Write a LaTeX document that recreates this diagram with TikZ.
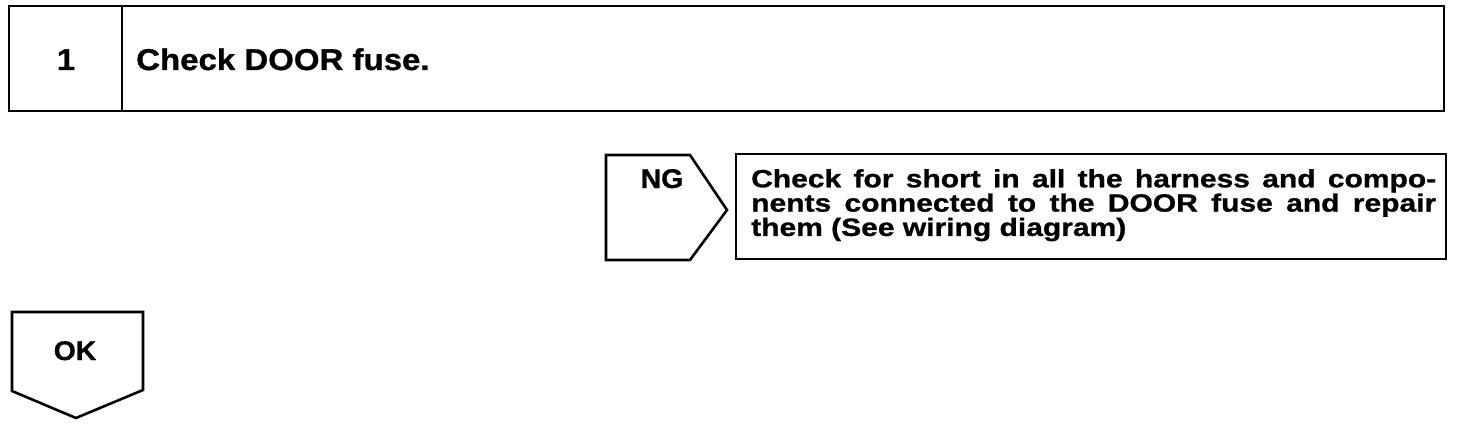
\documentclass[tikz,border=0pt]{standalone}
\usepackage{fontspec}
\newfontfamily\hlfont[FakeStretch=1.1,BoldFeatures={FakeBold=1}]{Liberation Sans}
\newfontfamily\wdfont[FakeStretch=1.2,BoldFeatures={FakeBold=1}]{Liberation Sans}
\newfontfamily\tgfont[FakeStretch=1.05,BoldFeatures={FakeBold=1}]{Liberation Sans}

\begin{document}
\begin{tikzpicture}[x=1pt,y=-1pt,line join=miter,
    box/.style={line width=2.6pt,draw=black},
    head/.style={inner sep=0pt,font=\hlfont\bfseries\fontsize{30}{30}\selectfont},
    body/.style={inner sep=0pt,text width=685pt,align=justify,
      font=\wdfont\bfseries\fontsize{25}{22.2}\selectfont},
    tag/.style={inner sep=0pt,font=\tgfont\bfseries\fontsize{27}{27}\selectfont}]
      \useasboundingbox (0,0) rectangle (1472,428);
      \draw[box] (9,6) rectangle (1444,111);
      \draw[box] (122,6) -- (122,111);
      \draw[box] (606,155) -- (690,155) -- (727,210) -- (690,260) -- (606,260) -- cycle;
      \draw[box] (736,154) rectangle (1446,259);
      \draw[box] (12,312) -- (143,312) -- (143,390) -- (76,418) -- (12,391) -- cycle;
      \node[head,anchor=base]       (num)  at (66,70)   {1};
      \node[head,anchor=base west]  (step) at (136,70)  {Check DOOR fuse.};
      \node[tag,anchor=base]        (ng)   at (662,188) {NG};
      \node[body,anchor=north west] (fix)  at (751,169)
        {Check for short in all the harness and compo-\linebreak
         nents connected to the DOOR fuse and repair\linebreak
         them (See wiring diagram)};
      \node[tag,anchor=base]        (ok)   at (75,360)  {OK};
     \end{tikzpicture}
\end{document}
